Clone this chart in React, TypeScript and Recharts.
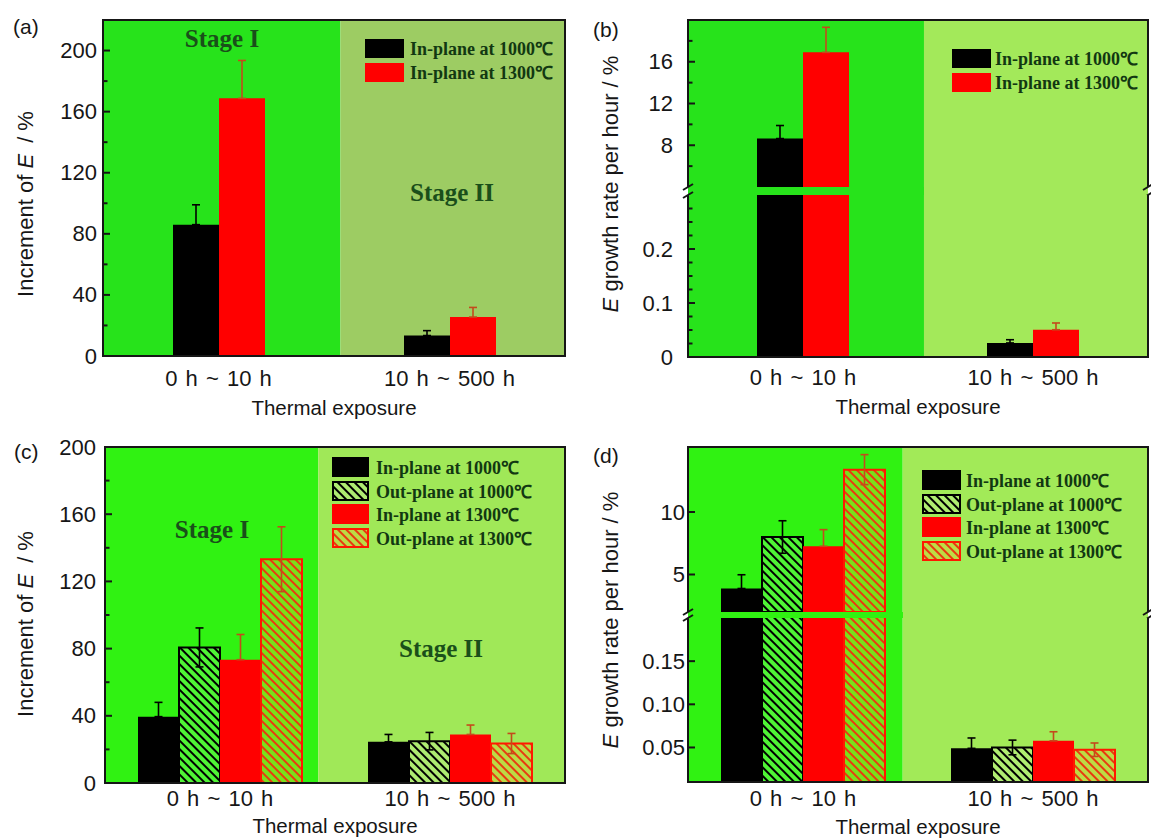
import type { ReactNode } from "react";
import { BarChart, Bar, XAxis, YAxis, ErrorBar, ReferenceArea } from "recharts";

const SANS = '"Liberation Sans", Arial, sans-serif';
const SERIF = '"Liberation Serif", "Times New Roman", serif';
const INK = "#161616";
const LEGEND_INK = "#123812";
const STAGE_INK = "#1a4f1a";

const categories = ["0 h ~ 10 h", "10 h ~ 500 h"];

// (a) increment of E, in-plane specimens
const aIn1000 = [86, 13.4];
const aIn1000Err = [13, 3.2];
const aIn1300 = [168.7, 25.5];
const aIn1300Err = [24.8, 6.3];

// (b) E growth rate per hour, in-plane specimens
const bIn1000 = [8.64, 0.026];
const bIn1000Err = [1.25, 0.006];
const bIn1300 = [16.9, 0.0505];
const bIn1300Err = [2.4, 0.0125];

// (c) increment of E, in-plane and out-plane
const cIn1000 = [39.5, 24.5];
const cIn1000Err = [8.5, 4.4];
const cOut1000 = [80.7, 24.9];
const cOut1000Err = [11.6, 5.2];
const cIn1300 = [73.4, 28.9];
const cIn1300Err = [15, 5.6];
const cOut1300 = [133.2, 23.5];
const cOut1300Err = [19.3, 6];

// (d) E growth rate per hour, in-plane and out-plane
const dIn1000 = [3.88, 0.049];
const dIn1000Err = [1.1, 0.012];
const dOut1000 = [8.0, 0.05];
const dOut1000Err = [1.3, 0.0085];
const dIn1300 = [7.26, 0.0577];
const dIn1300Err = [1.33, 0.0105];
const dOut1300 = [13.39, 0.0474];
const dOut1300Err = [1.2, 0.0078];

// y ticks: labelled majors and unlabelled minors
const incMajor = [0, 40, 80, 120, 160, 200];
const incMinor = [20, 60, 100, 140, 180];
const bUpMajor = [8, 12, 16];
const bUpMinor = [6, 10, 14, 18];
const bLowMajor = [0, 0.1, 0.2];
const bLowMinor = [0.025, 0.05, 0.075, 0.125, 0.15, 0.175, 0.225, 0.25, 0.275];
const dUpMajor = [5, 10];
const dLowMajor = [0.05, 0.1, 0.15];

const IN_1000 = "In-plane at 1000\u2103";
const OUT_1000 = "Out-plane at 1000\u2103";
const IN_1300 = "In-plane at 1300\u2103";
const OUT_1300 = "Out-plane at 1300\u2103";

type Kind = "in1000" | "out1000" | "in1300" | "out1300";
type Series = { kind: Kind; label: string; values: number[]; errs: number[] };
type Axis = { domain: [number, number]; major: number[]; minor: number[]; digits: number };

const LOOK: Record<Kind, { fill: string; stroke: string; err: string; twoSided: boolean }> = {
  in1000: { fill: "#000000", stroke: "none", err: "#000000", twoSided: false },
  out1000: { fill: "url(#hatch-black)", stroke: "#000000", err: "#000000", twoSided: true },
  in1300: { fill: "#ff0000", stroke: "none", err: "#c44a1c", twoSided: false },
  out1300: { fill: "url(#hatch-red)", stroke: "#ff1800", err: "#c44a1c", twoSided: true },
};

function buildRows(series: Series[], axis: Axis) {
  const [lo, hi] = axis.domain;
  return categories.map((name, i) => {
    const row: Record<string, unknown> = { name };
    series.forEach((s) => {
      const v = s.values[i];
      const e = s.errs[i];
      row[s.kind] = v > lo ? v : null;
      row[s.kind + "Err"] = v > lo && v <= hi ? (LOOK[s.kind].twoSided ? [e, e] : [0, e]) : null;
    });
    return row;
  });
}

const xTick = (p: any) => (
  <text
    x={p.x}
    y={p.y}
    textAnchor="middle"
    dominantBaseline="central"
    fill={INK}
    style={{ fontFamily: SANS, fontSize: 22, wordSpacing: 2 }}
  >
    {p.payload.value}
  </text>
);

function makeYTick(axis: Axis, gap: number) {
  return (p: any) => {
    const v = p.payload.value as number;
    const major = axis.major.some((m) => Math.abs(m - v) < 1e-9);
    const ax = p.x + gap;
    return (
      <g>
        <line x1={ax} x2={ax + (major ? 7 : 4.5)} y1={p.y} y2={p.y} stroke={INK} strokeWidth={2} />
        {major && (
          <text x={p.x} y={p.y} textAnchor="end" dominantBaseline="central" fill={INK} style={{ fontFamily: SANS, fontSize: 22 }}>
            {v === 0 ? "0" : v.toFixed(axis.digits)}
          </text>
        )}
      </g>
    );
  };
}

type SectionProps = {
  frameX: number;
  top: number;
  width: number;
  height: number;
  axis: Axis;
  series: Series[];
  bg: [string, string];
  split: number;
  barSize: number;
  tickGap: number;
  xGap?: number;
};

function Section(p: SectionProps) {
  const yW = 110;
  const padT = 14;
  const xH = p.xGap ? 44 : 0;
  const ticks = [...p.axis.major, ...p.axis.minor].sort((a, b) => a - b);
  return (
    <div style={{ position: "absolute", left: p.frameX - yW, top: p.top - padT }}>
      <BarChart
        width={p.width + yW}
        height={p.height + xH + padT}
        data={buildRows(p.series, p.axis)}
        margin={{ top: padT, right: 0, bottom: 0, left: 0 }}
        barGap={0}
        barSize={p.barSize}
      >
        <XAxis
          dataKey="name"
          hide={!p.xGap}
          height={xH}
          axisLine={false}
          tickLine={false}
          tickSize={0}
          tickMargin={p.xGap ?? 0}
          interval={0}
          tick={xTick}
        />
        <XAxis xAxisId="bg" type="number" domain={[0, 1]} hide />
        <YAxis
          width={yW}
          type="number"
          domain={p.axis.domain}
          allowDataOverflow
          ticks={ticks}
          interval={0}
          axisLine={false}
          tickLine={false}
          tickSize={0}
          tickMargin={p.tickGap}
          tick={makeYTick(p.axis, p.tickGap)}
        />
        <ReferenceArea xAxisId="bg" x1={0} x2={p.split} fill={p.bg[0]} fillOpacity={1} />
        <ReferenceArea xAxisId="bg" x1={p.split} x2={1} fill={p.bg[1]} fillOpacity={1} />
        {p.series.map((s) => {
          const look = LOOK[s.kind];
          return (
            <Bar
              key={s.kind}
              dataKey={s.kind}
              fill={look.fill}
              stroke={look.stroke}
              strokeWidth={look.stroke === "none" ? 0 : 2}
              isAnimationActive={false}
            >
              <ErrorBar dataKey={s.kind + "Err"} width={4} strokeWidth={1.6} stroke={look.err} />
            </Bar>
          );
        })}
      </BarChart>
    </div>
  );
}

type Stage = { text: string; x: number; y: number };
type PanelSpec = {
  letter: string;
  letterAt: [number, number];
  frame: { x: number; y: number; w: number };
  sections: { axis: Axis; h: number }[];
  gap: number;
  split: number;
  bg: [string, string];
  series: Series[];
  barSize: number;
  tickGap: number;
  xGap: number;
  titleY: number;
  ylabel: ReactNode;
  ylabelAt: [number, number];
  stages: Stage[];
  legend: { x: number; rows: number[]; w: number; h: number; tx: number };
};

function Panel({ spec }: { spec: PanelSpec }) {
  const { frame, sections, gap } = spec;
  const parts: ReactNode[] = [];
  let y = frame.y;
  sections.forEach((s, i) => {
    const first = i === 0;
    const last = i === sections.length - 1;
    parts.push(
      <Section
        key={"s" + i}
        frameX={frame.x}
        top={y}
        width={frame.w}
        height={s.h}
        axis={s.axis}
        series={spec.series}
        bg={spec.bg}
        split={spec.split}
        barSize={spec.barSize}
        tickGap={spec.tickGap}
        xGap={last ? spec.xGap : undefined}
      />
    );
    // plot frame, left open across an axis break
    parts.push(
      <div
        key={"f" + i}
        style={{
          position: "absolute",
          left: frame.x - 1,
          top: y - (first ? 1 : 0),
          width: frame.w + 2,
          height: s.h + (first ? 1 : 0) + (last ? 1 : 0),
          boxSizing: "border-box",
          borderStyle: "solid",
          borderColor: INK,
          borderWidth: `${first ? 2 : 0}px 2px ${last ? 2 : 0}px 2px`,
        }}
      />
    );
    if (!last) {
      const pct = spec.split * 100;
      const g0 = y + s.h;
      parts.push(
        <div
          key={"g" + i}
          style={{
            position: "absolute",
            left: frame.x,
            top: g0,
            width: frame.w,
            height: gap,
            background: `linear-gradient(to right, ${spec.bg[0]} 0%, ${spec.bg[0]} ${pct}%, ${spec.bg[1]} ${pct}%, ${spec.bg[1]} 100%)`,
          }}
        />
      );
      [frame.x, frame.x + frame.w].forEach((bx, k) =>
        parts.push(
          <svg key={"b" + i + k} width={16} height={gap + 14} style={{ position: "absolute", left: bx - 8, top: g0 - 7 }}>
            <line x1={3} y1={10} x2={13} y2={4} stroke={INK} strokeWidth={2} />
            <line x1={3} y1={10 + gap} x2={13} y2={4 + gap} stroke={INK} strokeWidth={2} />
          </svg>
        )
      );
    }
    y += s.h + (last ? 0 : gap);
  });
  const L = spec.legend;
  return (
    <>
      {parts}
      <div style={{ position: "absolute", left: spec.letterAt[0], top: spec.letterAt[1], transform: "translateY(-50%)", fontFamily: SANS, fontSize: 21, color: INK }}>
        {spec.letter}
      </div>
      <div
        style={{
          position: "absolute",
          left: spec.ylabelAt[0],
          top: spec.ylabelAt[1],
          transform: "translate(-50%, -50%) rotate(-90deg)",
          whiteSpace: "nowrap",
          fontFamily: SANS,
          fontSize: 22,
          color: INK,
        }}
      >
        {spec.ylabel}
      </div>
      <div
        style={{
          position: "absolute",
          left: frame.x + frame.w / 2,
          top: spec.titleY,
          transform: "translate(-50%, -50%)",
          whiteSpace: "nowrap",
          fontFamily: SANS,
          fontSize: 20.5,
          color: INK,
        }}
      >
        Thermal exposure
      </div>
      {spec.stages.map((s) => (
        <div
          key={s.text}
          style={{
            position: "absolute",
            left: s.x,
            top: s.y,
            transform: "translate(-50%, -50%)",
            whiteSpace: "nowrap",
            fontFamily: SERIF,
            fontWeight: 700,
            fontSize: 25,
            color: STAGE_INK,
          }}
        >
          {s.text}
        </div>
      ))}
      {spec.series.map((s, i) => {
        const look = LOOK[s.kind];
        const hatched = look.stroke !== "none";
        return (
          <div
            key={"l" + s.kind}
            style={{ position: "absolute", left: L.x, top: L.rows[i] - L.h / 2, height: L.h, display: "flex", alignItems: "center" }}
          >
            <svg width={L.w} height={L.h} style={{ display: "block" }}>
              {hatched ? (
                <rect x={1} y={1} width={L.w - 2} height={L.h - 2} fill={look.fill} stroke={look.stroke} strokeWidth={2} />
              ) : (
                <rect x={0} y={0} width={L.w} height={L.h} fill={look.fill} />
              )}
            </svg>
            <span
              style={{
                marginLeft: L.tx - L.x - L.w,
                whiteSpace: "nowrap",
                fontFamily: SERIF,
                fontWeight: 700,
                fontSize: 18,
                color: LEGEND_INK,
              }}
            >
              {s.label}
            </span>
          </div>
        );
      })}
    </>
  );
}

const incAxis: Axis = { domain: [0, 220], major: incMajor, minor: incMinor, digits: 0 };
const incAxisC: Axis = { domain: [0, 200], major: incMajor, minor: incMinor, digits: 0 };

const PANELS: PanelSpec[] = [
  {
    letter: "(a)",
    letterAt: [13, 27],
    frame: { x: 103, y: 20, w: 462 },
    sections: [{ axis: incAxis, h: 336 }],
    gap: 0,
    split: 0.514,
    bg: ["#27e31b", "#9dcc63"],
    series: [
      { kind: "in1000", label: IN_1000, values: aIn1000, errs: aIn1000Err },
      { kind: "in1300", label: IN_1300, values: aIn1300, errs: aIn1300Err },
    ],
    barSize: 46,
    tickGap: 6,
    xGap: 22,
    titleY: 408,
    ylabel: (
      <>
        Increment of <i>E</i>{"\u2002"}/ %
      </>
    ),
    ylabelAt: [26, 204],
    stages: [
      { text: "Stage I", x: 222, y: 39 },
      { text: "Stage II", x: 452, y: 193 },
    ],
    legend: { x: 365, rows: [48, 72], w: 39, h: 19, tx: 410 },
  },
  {
    letter: "(b)",
    letterAt: [593, 30],
    frame: { x: 688, y: 20, w: 460 },
    sections: [
      { axis: { domain: [4, 20], major: bUpMajor, minor: bUpMinor, digits: 0 }, h: 167 },
      { axis: { domain: [0, 0.3], major: bLowMajor, minor: bLowMinor, digits: 1 }, h: 162 },
    ],
    gap: 8,
    split: 0.513,
    bg: ["#27e31b", "#a3e95a"],
    series: [
      { kind: "in1000", label: IN_1000, values: bIn1000, errs: bIn1000Err },
      { kind: "in1300", label: IN_1300, values: bIn1300, errs: bIn1300Err },
    ],
    barSize: 46,
    tickGap: 15,
    xGap: 20,
    titleY: 407,
    ylabel: (
      <>
        <i>E</i> growth rate per hour / %
      </>
    ),
    ylabelAt: [611, 184],
    stages: [],
    legend: { x: 952, rows: [58, 82], w: 39, h: 19, tx: 995 },
  },
  {
    letter: "(c)",
    letterAt: [14, 452],
    frame: { x: 105, y: 447, w: 460 },
    sections: [{ axis: incAxisC, h: 336 }],
    gap: 0,
    split: 0.4637,
    bg: ["#30f212", "#a0e858"],
    series: [
      { kind: "in1000", label: IN_1000, values: cIn1000, errs: cIn1000Err },
      { kind: "out1000", label: OUT_1000, values: cOut1000, errs: cOut1000Err },
      { kind: "in1300", label: IN_1300, values: cIn1300, errs: cIn1300Err },
      { kind: "out1300", label: OUT_1300, values: cOut1300, errs: cOut1300Err },
    ],
    barSize: 41,
    tickGap: 9,
    xGap: 15,
    titleY: 826,
    ylabel: (
      <>
        Increment of <i>E</i>{"\u2002"}/ %
      </>
    ),
    ylabelAt: [26, 624],
    stages: [
      { text: "Stage I", x: 212, y: 530 },
      { text: "Stage II", x: 441, y: 649 },
    ],
    legend: { x: 332, rows: [466.7, 490.7, 514, 537.7], w: 37, h: 20, tx: 376 },
  },
  {
    letter: "(d)",
    letterAt: [593, 456],
    frame: { x: 688, y: 447, w: 460 },
    sections: [
      { axis: { domain: [2, 15.2], major: dUpMajor, minor: [], digits: 0 }, h: 165 },
      { axis: { domain: [0.01, 0.2], major: dLowMajor, minor: [], digits: 2 }, h: 164 },
    ],
    gap: 6,
    split: 0.4667,
    bg: ["#30f212", "#a2ea58"],
    series: [
      { kind: "in1000", label: IN_1000, values: dIn1000, errs: dIn1000Err },
      { kind: "out1000", label: OUT_1000, values: dOut1000, errs: dOut1000Err },
      { kind: "in1300", label: IN_1300, values: dIn1300, errs: dIn1300Err },
      { kind: "out1300", label: OUT_1300, values: dOut1300, errs: dOut1300Err },
    ],
    barSize: 41,
    tickGap: 3,
    xGap: 16,
    titleY: 827,
    ylabel: (
      <>
        <i>E</i> growth rate per hour / %
      </>
    ),
    ylabelAt: [611, 620],
    stages: [],
    legend: { x: 922, rows: [480, 503.5, 527, 550.7], w: 39, h: 20, tx: 966 },
  },
];

export default function App() {
  return (
    <div style={{ position: "absolute", left: 0, top: 0, width: 1151, height: 840, background: "#ffffff", overflow: "hidden" }}>
      <svg width={0} height={0} style={{ position: "absolute" }}>
        <defs>
          <pattern id="hatch-black" patternUnits="userSpaceOnUse" width={6} height={6} patternTransform="rotate(-45)">
            <rect width={6} height={6} fill="rgba(255,255,255,0.15)" />
            <line x1={3} y1={0} x2={3} y2={6} stroke="#000000" strokeWidth={2} />
          </pattern>
          <pattern id="hatch-red" patternUnits="userSpaceOnUse" width={6} height={6} patternTransform="rotate(-45)">
            <rect width={6} height={6} fill="rgba(230,200,40,0.4)" />
            <line x1={3} y1={0} x2={3} y2={6} stroke="#e83a10" strokeWidth={2} />
          </pattern>
        </defs>
      </svg>
      {PANELS.map((p) => (
        <Panel key={p.letter} spec={p} />
      ))}
    </div>
  );
}
